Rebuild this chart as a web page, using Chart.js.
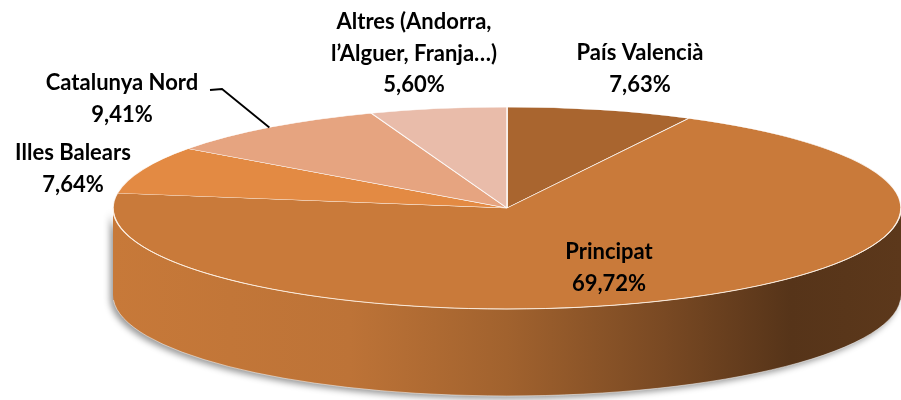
<!DOCTYPE html>
<html>
  <head>
    <title>Distribució per territoris</title>
    <meta charset="UTF-8">
    <style>
      body {
        margin: 0;
        background: #ffffff;
      }
      #canvas {
        display: block;
      }
    </style>
  </head>
  <body>
    <canvas id="canvas" width="901" height="400"></canvas>
    <script src="https://cdn.jsdelivr.net/npm/chart.js@4/dist/chart.umd.min.js"></script>
    <script>
    // data (clockwise from 12 o'clock)
    var territories = ["País Valencià", "Principat", "Illes Balears", "Catalunya Nord", "Altres (Andorra, l’Alguer, Franja…)"];
    var shares = [7.63, 69.72, 7.64, 9.41, 5.60];
    var labelLines = [
        ["País Valencià", "7,63%"],
        ["Principat", "69,72%"],
        ["Illes Balears", "7,64%"],
        ["Catalunya Nord", "9,41%"],
        ["Altres (Andorra,", "l’Alguer, Franja…)", "5,60%"]
    ];
    var sliceColors = ["#a9652f", "#c97a3a", "#e38a43", "#e6a480", "#e9bcaa"];

    // the flattened "3d" look: ellipse centre, radii and thickness
    var CX = 507, CY = 208, RX = 394, RY = 101, DEPTH = 87;

    // where each label block is centred (first line), and whether it gets a leader line
    var labelAnchors = [
        { x: 640, y: 53 },
        { x: 609, y: 252 },
        { x: 73, y: 153 },
        { x: 122, y: 83, leader: [[210, 90], [222, 89]] },
        { x: 414, y: 22 }
    ];

    function shade(hex, f) {
        var n = parseInt(hex.slice(1), 16);
        var r = Math.round(((n >> 16) & 255) * f);
        var g = Math.round(((n >> 8) & 255) * f);
        var b = Math.round((n & 255) * f);
        return "rgb(" + r + "," + g + "," + b + ")";
    }

    var pie3d = {
        id: 'pie3d',
        beforeDatasetsDraw: function(chart) {
            var ctx = chart.ctx;
            var arcs = chart.getDatasetMeta(0).data;

            // the side wall, only the front half (angles 0..PI) can be seen
            arcs.forEach(function(arc, i) {
                var a0 = Math.max(arc.startAngle, 0);
                var a1 = Math.min(arc.endAngle, Math.PI);
                if (a1 <= a0) return;
                var base = sliceColors[i];
                var grad = ctx.createLinearGradient(CX - RX, 0, CX + RX, 0);
                grad.addColorStop(0, shade(base, 0.99));
                grad.addColorStop(0.3, shade(base, 0.94));
                grad.addColorStop(0.5, shade(base, 0.8));
                grad.addColorStop(0.7, shade(base, 0.6));
                grad.addColorStop(0.86, shade(base, 0.43));
                grad.addColorStop(1, shade(base, 0.46));
                ctx.save();
                ctx.shadowColor = 'rgba(0,0,0,0.4)';
                ctx.shadowBlur = 6;
                ctx.shadowOffsetX = -3;
                ctx.shadowOffsetY = 3;
                ctx.beginPath();
                ctx.ellipse(CX, CY, RX, RY, 0, a0, a1);
                ctx.ellipse(CX, CY + DEPTH, RX, RY, 0, a1, a0, true);
                ctx.closePath();
                ctx.fillStyle = grad;
                ctx.fill();
                ctx.restore();
            });

            // squash the library's circle into the top face ellipse
            var a = arcs[0];
            ctx.save();
            ctx.translate(CX, CY);
            ctx.scale(RX / a.outerRadius, RY / a.outerRadius);
            ctx.translate(-a.x, -a.y);
        },
        afterDatasetsDraw: function(chart) {
            var ctx = chart.ctx;
            ctx.restore();

            // light rim where the top face meets the wall
            ctx.save();
            ctx.strokeStyle = 'rgba(255,240,225,0.85)';
            ctx.lineWidth = 1;
            ctx.beginPath();
            ctx.ellipse(CX, CY, RX, RY, 0, 0, Math.PI);
            ctx.stroke();
            ctx.strokeStyle = 'rgba(255,255,255,0.5)';
            ctx.beginPath();
            ctx.ellipse(CX, CY + DEPTH, RX, RY, 0, 0.05, Math.PI - 0.05);
            ctx.stroke();
            ctx.restore();

            // labels
            var arcs = chart.getDatasetMeta(0).data;
            ctx.save();
            ctx.fillStyle = '#000000';
            ctx.font = 'bold 22px Lato, "DejaVu Sans", sans-serif';
            ctx.textAlign = 'center';
            ctx.textBaseline = 'middle';
            labelLines.forEach(function(lines, i) {
                var p = labelAnchors[i];
                lines.forEach(function(t, k) {
                    ctx.fillText(t, p.x, p.y + k * 31.5);
                });
                if (p.leader) {
                    var arc = arcs[i];
                    var mid = (arc.startAngle + arc.endAngle) / 2;
                    ctx.strokeStyle = '#000000';
                    ctx.lineWidth = 1.8;
                    ctx.beginPath();
                    ctx.moveTo(p.leader[0][0], p.leader[0][1]);
                    ctx.lineTo(p.leader[1][0], p.leader[1][1]);
                    ctx.lineTo(CX + RX * Math.cos(mid), CY + RY * Math.sin(mid));
                    ctx.stroke();
                }
            });
            ctx.restore();
        }
    };

    var ctx = document.getElementById('canvas').getContext('2d');
    var chart = new Chart(ctx, {
        type: 'pie',
        data: {
            labels: territories,
            datasets: [{
                data: shares,
                backgroundColor: sliceColors,
                borderColor: 'rgba(255,255,255,0.85)',
                borderWidth: 0.8,
                clip: false
            }]
        },
        options: {
            responsive: false,
            animation: false,
            events: [],
            layout: { padding: 0 },
            plugins: {
                legend: { display: false },
                tooltip: { enabled: false }
            }
        },
        plugins: [pie3d]
    });
    </script>
  </body>
</html>
